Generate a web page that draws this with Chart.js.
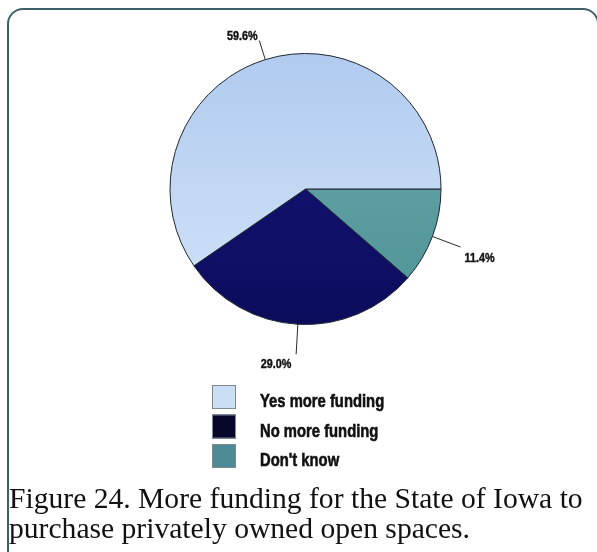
<!DOCTYPE html>
<html>
<head>
<meta charset="utf-8">
<script src="https://cdn.jsdelivr.net/npm/chart.js@4/dist/chart.umd.min.js"></script>
<style>
  html, body { margin: 0; padding: 0; background: #ffffff; }
  body { width: 597px; height: 552px; position: relative; overflow: hidden; }
  #frame {
    position: absolute; left: 7px; top: 8px; width: 592px; height: 580px;
    border: 2px solid #3f5f68; border-radius: 16px; box-sizing: border-box;
  }
  #chart { position: absolute; left: 0; top: 0; }
  #caption {
    position: absolute; left: 9px; top: 483px; width: 600px;
    font-family: "Liberation Serif", "Times New Roman", serif;
    font-size: 29.6px; line-height: 30px; color: #111; white-space: nowrap;
  }
</style>
</head>
<body>
<div id="frame"></div>
<canvas id="chart" width="597" height="552"></canvas>
<div id="caption">Figure 24. More funding for the State of Iowa to<br>purchase privately owned open spaces.</div>
<script>
// Survey responses (legend order)
const categories = ['Yes more funding', 'No more funding', "Don't know"];
const shares = [59.6, 29.0, 11.4];
const valueLabels = ['59.6%', '29.0%', '11.4%'];

// Clockwise drawing order starting at 3 o'clock: Don't know, No, Yes
const drawOrder = [2, 1, 0];

const sliceColors = [
  ['#b0cbef', '#c2d8f3', '#d0e4f8'],   // yes: pale sky blue
  ['#18187e', '#11116c', '#0c0c5c'],   // no: navy
  ['#6aa8aa', '#5c9ea1', '#4f9398']    // don't know: teal
];
const legendColors = ['#cadff4', '#07072c', '#4f8b95'];

// leader line length and label offset per category
const labelStyle = [
  { len: 20, dx: -17, dy: -4 },
  { len: 30, dx: -20, dy: 10 },
  { len: 30, dx: 19, dy: 12 }
];

function sliceFill(context) {
  const chart = context.chart;
  const area = chart.chartArea;
  const cat = drawOrder[context.dataIndex];
  if (!area) return sliceColors[cat][1];
  const g = chart.ctx.createLinearGradient(0, area.top, 0, area.bottom);
  g.addColorStop(0, sliceColors[cat][0]);
  g.addColorStop(0.5, sliceColors[cat][1]);
  g.addColorStop(1, sliceColors[cat][2]);
  return g;
}

// condensed heavy text: bold face squeezed horizontally, lightly stroked
function narrowText(ctx, text, x, y, size, squeeze, align, weight) {
  ctx.save();
  ctx.font = 'bold ' + size + 'px "Liberation Sans", Arial, sans-serif';
  ctx.textAlign = align;
  ctx.translate(x, y);
  ctx.scale(squeeze, 1);
  ctx.fillText(text, 0, 0);
  ctx.strokeStyle = ctx.fillStyle;
  ctx.lineWidth = weight;
  ctx.strokeText(text, 0, 0);
  ctx.restore();
}

const leaderLabels = {
  id: 'leaderLabels',
  afterDatasetsDraw(chart) {
    const ctx = chart.ctx;
    const meta = chart.getDatasetMeta(0);
    ctx.save();
    meta.data.forEach((arc, i) => {
      const cat = drawOrder[i];
      const p = arc.getProps(['x', 'y', 'startAngle', 'endAngle', 'outerRadius'], true);
      const mid = (p.startAngle + p.endAngle) / 2;
      const st = labelStyle[cat];
      const x0 = p.x + Math.cos(mid) * p.outerRadius;
      const y0 = p.y + Math.sin(mid) * p.outerRadius;
      const x1 = p.x + Math.cos(mid) * (p.outerRadius + st.len);
      const y1 = p.y + Math.sin(mid) * (p.outerRadius + st.len);
      ctx.strokeStyle = '#2a2a2a';
      ctx.lineWidth = 1;
      ctx.beginPath();
      ctx.moveTo(x0, y0);
      ctx.lineTo(x1, y1);
      ctx.stroke();
      ctx.fillStyle = '#111';
      ctx.textBaseline = 'middle';
      narrowText(ctx, valueLabels[cat], x1 + st.dx, y1 + st.dy, 12, 0.9, 'center', 0.4);
    });

    // legend
    const boxX = 212, boxSize = 24, rowTop = [385, 414.5, 444];
    categories.forEach((name, k) => {
      const y = rowTop[k];
      ctx.fillStyle = legendColors[k];
      ctx.fillRect(boxX, y, boxSize, boxSize);
      ctx.strokeStyle = '#7d8a94';
      ctx.lineWidth = 1;
      ctx.strokeRect(boxX + 0.5, y + 0.5, boxSize - 1, boxSize - 1);
      ctx.fillStyle = '#111';
      ctx.textBaseline = 'alphabetic';
      narrowText(ctx, name, 260, y + boxSize - 2, 18.5, 0.8, 'left', 0.6);
    });
    ctx.restore();
  }
};

new Chart(document.getElementById('chart'), {
  type: 'pie',
  data: {
    labels: drawOrder.map(i => categories[i]),
    datasets: [{
      data: drawOrder.map(i => shares[i]),
      backgroundColor: sliceFill,
      borderColor: '#1e2630',
      borderWidth: 1
    }]
  },
  options: {
    responsive: false,
    animation: false,
    rotation: 90,
    layout: { padding: { left: 169, right: 155, top: 53, bottom: 227 } },
    plugins: {
      legend: { display: false },
      tooltip: { enabled: false }
    }
  },
  plugins: [leaderLabels]
});
</script>
</body>
</html>
